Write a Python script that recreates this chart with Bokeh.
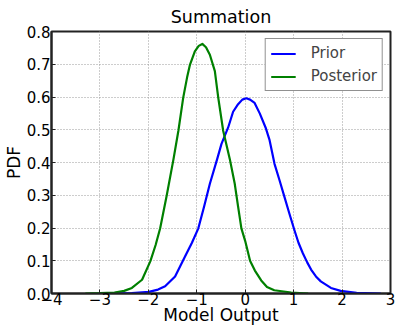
from bokeh.plotting import figure
from bokeh.models import Legend, LegendItem, FixedTicker, Range1d
from bokeh.embed import file_html
from bokeh.resources import INLINE

# Kernel density estimates of the model output
prior_x = [-2.8, -2.34, -1.99, -1.8, -1.654, -1.448, -1.243, -1.1, -0.968, -0.85,
           -0.73, -0.578, -0.49, -0.352, -0.25, -0.147, -0.06, 0.024, 0.1, 0.194,
           0.3, 0.42, 0.5, 0.605, 0.71, 0.81, 0.91, 1.015, 1.1, 1.19, 1.28, 1.36,
           1.46, 1.56, 1.77, 1.97, 2.3, 2.8]
prior_y = [0.0, 0.001, 0.005, 0.012, 0.022, 0.052, 0.113, 0.155, 0.199, 0.265,
           0.335, 0.411, 0.457, 0.507, 0.555, 0.578, 0.592, 0.596, 0.592, 0.582,
           0.55, 0.507, 0.47, 0.396, 0.345, 0.295, 0.245, 0.194, 0.155, 0.123,
           0.095, 0.073, 0.052, 0.037, 0.017, 0.008, 0.002, 0.0]

post_x = [-3.3, -3.0, -2.7, -2.5, -2.34, -2.13, -1.96, -1.85, -1.756, -1.62,
          -1.48, -1.38, -1.28, -1.2, -1.14, -1.04, -0.96, -0.886, -0.81, -0.73,
          -0.627, -0.557, -0.455, -0.319, -0.216, -0.147, -0.079, 0.0, 0.1, 0.2,
          0.33, 0.45, 0.6, 0.95, 1.3]
post_y = [0.0, 0.001, 0.003, 0.008, 0.017, 0.042, 0.098, 0.148, 0.199, 0.3,
          0.411, 0.497, 0.598, 0.66, 0.699, 0.739, 0.756, 0.762, 0.752, 0.729,
          0.679, 0.598, 0.497, 0.411, 0.335, 0.265, 0.199, 0.16, 0.1, 0.07,
          0.04, 0.02, 0.01, 0.003, 0.0]

x_ticks = [-4, -3, -2, -1, 0, 1, 2, 3]
x_tick_labels = ["\u22124", "\u22123", "\u22122", "\u22121", "0", "1", "2", "3"]
y_ticks = [0.0, 0.1, 0.2, 0.3, 0.4, 0.5, 0.6, 0.7, 0.8]
y_tick_labels = ["0.0", "0.1", "0.2", "0.3", "0.4", "0.5", "0.6", "0.7", "0.8"]

FONT = "DejaVu Sans"

p = figure(width=395, height=327, output_backend="svg", toolbar_location=None,
           x_range=Range1d(-4, 3), y_range=Range1d(0, 0.8),
           min_border_left=49, min_border_right=5, min_border_top=30,
           min_border_bottom=0)

p.title.text = "Summation"
p.title.align = "center"
p.title.text_font = FONT
p.title.text_font_size = "17.5px"
p.title.text_font_style = "normal"
p.title.text_color = "black"
p.title.standoff = 9

p.outline_line_color = "#222222"
p.outline_line_width = 2
p.outline_line_alpha = 1.0
p.background_fill_color = "white"
p.border_fill_color = "white"

for ax in (p.xaxis[0], p.yaxis[0]):
    ax.axis_line_color = "#222222"
    ax.axis_line_width = 2
    ax.major_tick_in = 4
    ax.major_tick_out = 0
    ax.minor_tick_line_color = None
    ax.major_tick_line_color = "#222222"
    ax.major_label_text_font = FONT
    ax.major_label_text_font_size = "15px"
    ax.major_label_text_color = "black"
    ax.axis_label_text_font = FONT
    ax.axis_label_text_font_size = "17px"
    ax.axis_label_text_font_style = "normal"
    ax.axis_label_text_color = "black"

p.xaxis.ticker = FixedTicker(ticks=x_ticks)
p.xaxis.major_label_overrides = {t: s for t, s in zip(x_ticks, x_tick_labels)}
p.xaxis.axis_label = "Model Output"
p.xaxis.major_label_standoff = -1
p.xaxis.axis_label_standoff = -3

p.yaxis.ticker = FixedTicker(ticks=y_ticks)
p.yaxis.major_label_overrides = {t: s for t, s in zip(y_ticks, y_tick_labels)}
p.yaxis.axis_label = "PDF"
p.yaxis.major_label_standoff = 1
p.yaxis.axis_label_standoff = 0

for g in (p.xgrid[0], p.ygrid[0]):
    g.grid_line_color = "#9a9a9a"
    g.grid_line_dash = "1 2"
    g.grid_line_width = 1

r_prior = p.line(prior_x, prior_y, line_color="#0000ff", line_width=2.2,
                 line_join="round")
r_post = p.line(post_x, post_y, line_color="#008000", line_width=2.2,
                line_join="round")

legend = Legend(items=[LegendItem(label="Prior", renderers=[r_prior]),
                       LegendItem(label="Posterior", renderers=[r_post])],
                location="top_right")
legend.margin = 7
legend.padding = 5
legend.spacing = 5
legend.label_text_font = FONT
legend.label_text_font_size = "15px"
legend.label_height = 17
legend.glyph_height = 17
legend.glyph_width = 25
legend.label_standoff = 15
legend.border_line_color = "#222222"
legend.border_line_width = 1
legend.background_fill_color = "white"
legend.background_fill_alpha = 1.0
p.add_layout(legend)

open("out.html", "w").write(file_html(p, INLINE))
